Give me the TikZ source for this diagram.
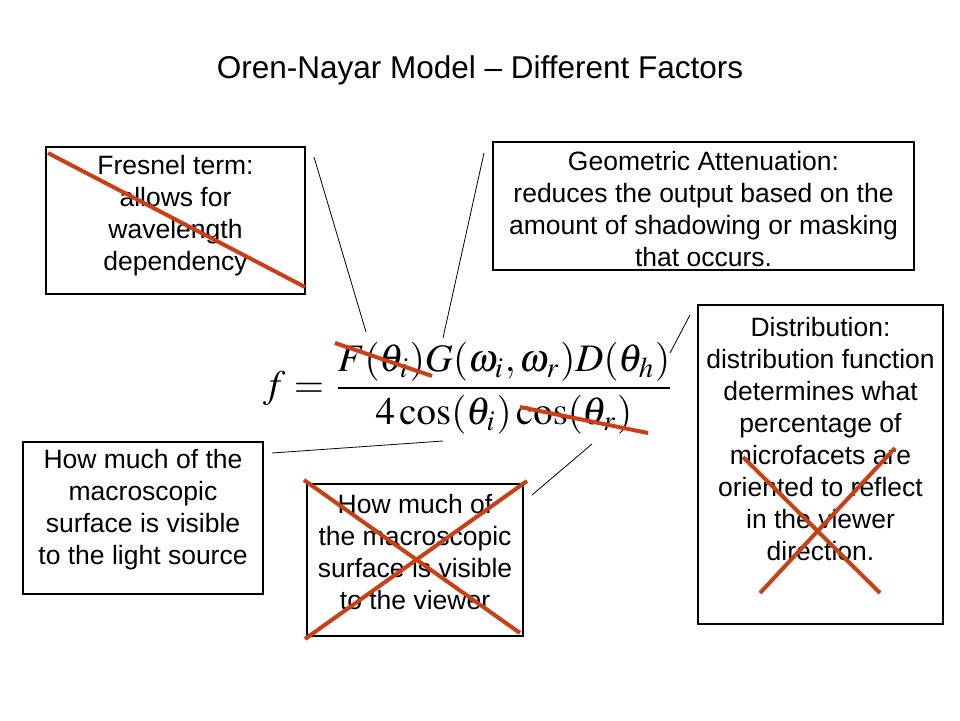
\documentclass[tikz,border=0pt]{standalone}
\usepackage{mathptmx}
\usepackage[no-math]{fontspec}
\setmainfont{Liberation Sans}
\usepackage{graphicx}

\definecolor{strike}{RGB}{204,62,20}

\tikzset{
    box/.style={draw, line width=1.2pt, inner sep=0pt},
    txt/.style={align=center, inner sep=0pt, font=\fontsize{26.5}{32}\selectfont},
    lead/.style={line width=0.8pt},
    cross/.style={draw=strike, line width=4pt},
}

\begin{document}
\begin{tikzpicture}[x=1pt, y=-1pt]
    \useasboundingbox (0,0) rectangle (960,720);

    % title
    \node[font=\fontsize{31.5}{38}\selectfont] (title) at (480,70) {Oren-Nayar Model – Different Factors};

    % the formula
    \node[inner sep=0pt] (brdf) at (469,388)
        {\resizebox{412pt}{!}{$\displaystyle f=\frac{F(\theta_i)G(\omega_i,\omega_r)D(\theta_h)}{4\cos(\theta_i)\cos(\theta_r)}$}};

    % boxes
    \node[box, minimum width=259pt, minimum height=147pt] (fresnel) at (175.5,220.5) {};
    \node[box, minimum width=421pt, minimum height=128pt] (geom) at (703.5,206) {};
    \node[box, minimum width=245pt, minimum height=319pt] (dist) at (820.5,464.5) {};
    \node[box, minimum width=240pt, minimum height=152pt] (light) at (143,518) {};
    \node[box, minimum width=216pt, minimum height=152pt] (viewer) at (415,560) {};

    % box texts
    \node[txt] (fresneltext) at (175.5,216) {Fresnel term:\\allows for\\wavelength\\dependency};
    \node[txt] (geomtext) at (703.5,209) {Geometric Attenuation:\\reduces the output based on the\\amount of shadowing or masking\\that occurs.};
    \node[txt] (disttext) at (820.5,439) {Distribution:\\distribution function\\determines what\\percentage of\\microfacets are\\oriented to reflect\\in the viewer\\direction.};
    \node[txt] (lighttext) at (143,510) {How much of the\\macroscopic\\surface is visible\\to the light source};
    \node[txt] (viewertext) at (415,552) {How much of\\the macroscopic\\surface is visible\\to the viewer};

    % leader lines
    \coordinate (fresnel-end) at (314,157);
    \coordinate (fresnel-tip) at (366,332);
    \coordinate (geom-end) at (484,153);
    \coordinate (geom-tip) at (443,338);
    \coordinate (dist-end) at (690,315);
    \coordinate (dist-tip) at (670,353);
    \coordinate (light-end) at (272,453);
    \coordinate (light-tip) at (443,441);
    \coordinate (viewer-end) at (532,495);
    \coordinate (viewer-tip) at (592,444);
    \draw[lead] (fresnel-end) -- (fresnel-tip);
    \draw[lead] (geom-end) -- (geom-tip);
    \draw[lead] (dist-end) -- (dist-tip);
    \draw[lead] (light-end) -- (light-tip);
    \draw[lead] (viewer-end) -- (viewer-tip);

    % crossed out factors
    \draw[cross] (48,153) -- (305,287);
    \draw[cross] (335,343) -- (432,376);
    \draw[cross] (520,407) -- (648,433);
    \draw[cross] (743,457) -- (880,593);
    \draw[cross] (760,593) -- (895,448);
    \draw[cross] (304,480) -- (520,633);
    \draw[cross] (305,639) -- (527,481);
\end{tikzpicture}
\end{document}
